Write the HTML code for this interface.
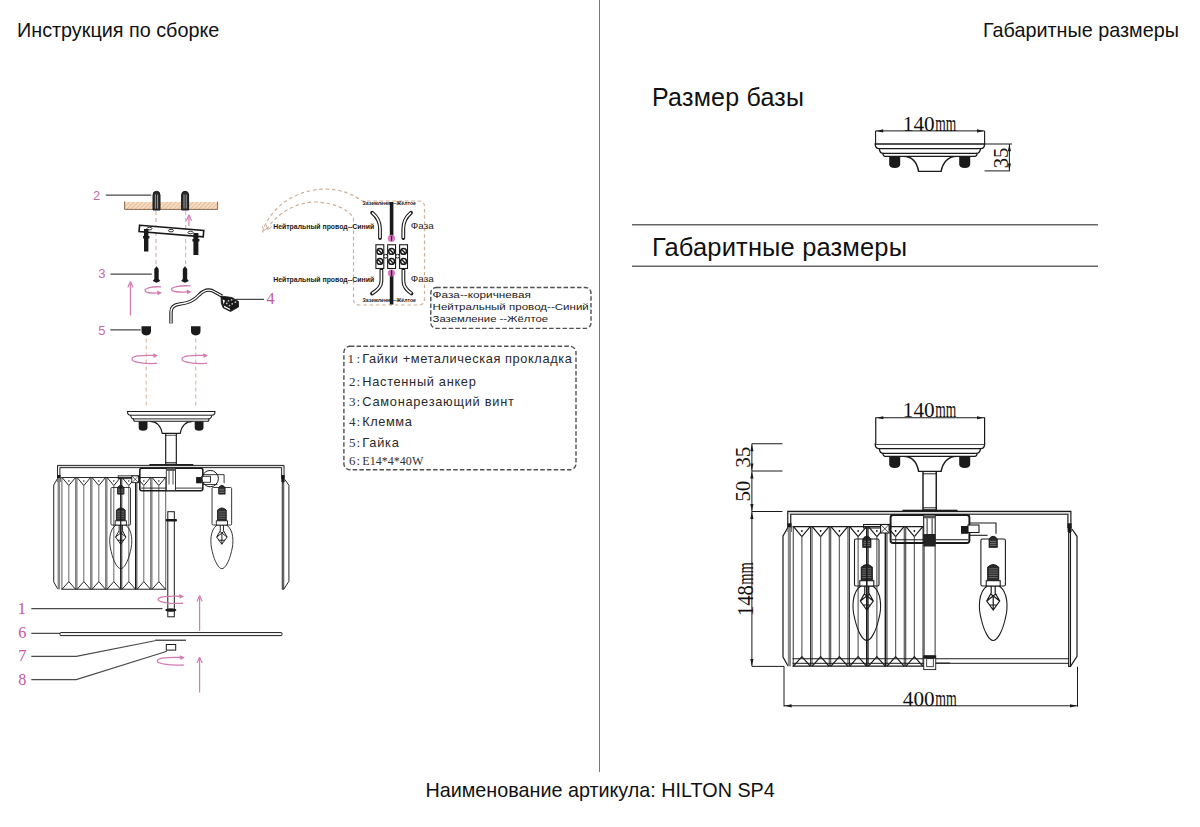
<!DOCTYPE html>
<html><head><meta charset="utf-8"><title>HILTON SP4</title>
<style>
html,body{margin:0;padding:0;background:#fff;}
body{width:1200px;height:827px;overflow:hidden;position:relative;font-family:"Liberation Sans",sans-serif;}
svg{position:absolute;left:0;top:0;}
.t{font-family:"Liberation Sans",sans-serif;fill:#111;}
.s{font-family:"Liberation Serif",serif;fill:#111;}
</style></head><body>
<svg width="1200" height="827" viewBox="0 0 1200 827">
<defs><g id="lamp"><rect x="-141.85" y="0.1" width="283.2" height="2.9" fill="#ddd" stroke="none"/><path d="M-141.85,17 V0.1 H141.3 V17" fill="none" stroke="#1a1a1a" stroke-width="1.2"/><path d="M-138.85,17 V2.95 H138.3 V17" fill="none" stroke="#1a1a1a" stroke-width="1.2"/><path d="M-142,12 h4 v8 l-2,2 l-2,-2z" fill="#1a1a1a"/><path d="M138,12 h4 v8 l-2,2 l-2,-2z" fill="#1a1a1a"/><path d="M-141.6,16 L-146.6,24.7 V145.7 L-141.6,154.7" fill="none" stroke="#1a1a1a" stroke-width="1.2"/><rect x="-141.8" y="16" width="3.2" height="139" fill="#8a8a8a"/><path d="M139.1,15 V155 H140.9 L147.4,145 V25 L142.3,17.7" fill="none" stroke="#1a1a1a" stroke-width="1.2"/><path d="M140.9,15 V155" stroke="#1a1a1a" stroke-width="1.08" fill="none"/><line x1="-137.1" y1="15.3" x2="-5.849999999999994" y2="15.3" stroke="#1a1a1a" stroke-width="1.2"/><line x1="-137.1" y1="154.9" x2="-5.849999999999994" y2="154.9" stroke="#1a1a1a" stroke-width="1.2"/><line x1="-136.35" y1="15.3" x2="-136.35" y2="154.9" stroke="#2a2a2a" stroke-width="0.95"/><line x1="-119.1" y1="15.3" x2="-119.1" y2="154.9" stroke="#2a2a2a" stroke-width="0.95"/><path d="M-136.1,15.3 L-127.725,25.3 L-119.35,15.3" fill="none" stroke="#1a1a1a" stroke-width="1.2"/><circle cx="-127.725" cy="19.700000000000003" r="0.9" fill="#1a1a1a"/><line x1="-127.725" y1="25.3" x2="-127.725" y2="145.4" stroke="#666" stroke-width="1.25"/><path d="M-136.1,154.9 L-127.725,145.4 L-119.35,154.9" fill="none" stroke="#1a1a1a" stroke-width="1.2"/><line x1="-117.6" y1="15.3" x2="-117.6" y2="154.9" stroke="#2a2a2a" stroke-width="0.95"/><line x1="-100.35" y1="15.3" x2="-100.35" y2="154.9" stroke="#2a2a2a" stroke-width="0.95"/><path d="M-117.35,15.3 L-108.975,25.3 L-100.6,15.3" fill="none" stroke="#1a1a1a" stroke-width="1.2"/><circle cx="-108.975" cy="19.700000000000003" r="0.9" fill="#1a1a1a"/><line x1="-108.975" y1="25.3" x2="-108.975" y2="145.4" stroke="#666" stroke-width="1.25"/><path d="M-117.35,154.9 L-108.975,145.4 L-100.6,154.9" fill="none" stroke="#1a1a1a" stroke-width="1.2"/><line x1="-98.85" y1="15.3" x2="-98.85" y2="154.9" stroke="#2a2a2a" stroke-width="0.95"/><line x1="-81.6" y1="15.3" x2="-81.6" y2="154.9" stroke="#2a2a2a" stroke-width="0.95"/><path d="M-98.6,15.3 L-90.225,25.3 L-81.85,15.3" fill="none" stroke="#1a1a1a" stroke-width="1.2"/><circle cx="-90.225" cy="19.700000000000003" r="0.9" fill="#1a1a1a"/><line x1="-90.225" y1="25.3" x2="-90.225" y2="145.4" stroke="#666" stroke-width="1.25"/><path d="M-98.6,154.9 L-90.225,145.4 L-81.85,154.9" fill="none" stroke="#1a1a1a" stroke-width="1.2"/><line x1="-80.1" y1="15.3" x2="-80.1" y2="154.9" stroke="#2a2a2a" stroke-width="0.95"/><line x1="-62.849999999999994" y1="15.3" x2="-62.849999999999994" y2="154.9" stroke="#2a2a2a" stroke-width="0.95"/><path d="M-79.85,15.3 L-71.475,25.3 L-63.099999999999994,15.3" fill="none" stroke="#1a1a1a" stroke-width="1.2"/><circle cx="-71.475" cy="19.700000000000003" r="0.9" fill="#1a1a1a"/><line x1="-71.475" y1="25.3" x2="-71.475" y2="145.4" stroke="#666" stroke-width="1.25"/><path d="M-79.85,154.9 L-71.475,145.4 L-63.099999999999994,154.9" fill="none" stroke="#1a1a1a" stroke-width="1.2"/><line x1="-61.349999999999994" y1="15.3" x2="-61.349999999999994" y2="154.9" stroke="#2a2a2a" stroke-width="0.95"/><line x1="-44.099999999999994" y1="15.3" x2="-44.099999999999994" y2="154.9" stroke="#2a2a2a" stroke-width="0.95"/><path d="M-61.099999999999994,15.3 L-52.724999999999994,25.3 L-44.349999999999994,15.3" fill="none" stroke="#1a1a1a" stroke-width="1.2"/><circle cx="-52.724999999999994" cy="19.700000000000003" r="0.9" fill="#1a1a1a"/><line x1="-52.724999999999994" y1="25.3" x2="-52.724999999999994" y2="145.4" stroke="#666" stroke-width="1.25"/><path d="M-61.099999999999994,154.9 L-52.724999999999994,145.4 L-44.349999999999994,154.9" fill="none" stroke="#1a1a1a" stroke-width="1.2"/><line x1="-42.599999999999994" y1="15.3" x2="-42.599999999999994" y2="154.9" stroke="#2a2a2a" stroke-width="0.95"/><line x1="-25.349999999999994" y1="15.3" x2="-25.349999999999994" y2="154.9" stroke="#2a2a2a" stroke-width="0.95"/><path d="M-42.349999999999994,15.3 L-33.974999999999994,25.3 L-25.599999999999994,15.3" fill="none" stroke="#1a1a1a" stroke-width="1.2"/><circle cx="-33.974999999999994" cy="19.700000000000003" r="0.9" fill="#1a1a1a"/><line x1="-33.974999999999994" y1="25.3" x2="-33.974999999999994" y2="145.4" stroke="#666" stroke-width="1.25"/><path d="M-42.349999999999994,154.9 L-33.974999999999994,145.4 L-25.599999999999994,154.9" fill="none" stroke="#1a1a1a" stroke-width="1.2"/><line x1="-23.849999999999994" y1="15.3" x2="-23.849999999999994" y2="154.9" stroke="#2a2a2a" stroke-width="0.95"/><line x1="-6.599999999999994" y1="15.3" x2="-6.599999999999994" y2="154.9" stroke="#2a2a2a" stroke-width="0.95"/><path d="M-23.599999999999994,15.3 L-15.224999999999994,25.3 L-6.849999999999994,15.3" fill="none" stroke="#1a1a1a" stroke-width="1.2"/><circle cx="-15.224999999999994" cy="19.700000000000003" r="0.9" fill="#1a1a1a"/><line x1="-15.224999999999994" y1="25.3" x2="-15.224999999999994" y2="145.4" stroke="#666" stroke-width="1.25"/><path d="M-23.599999999999994,154.9 L-15.224999999999994,145.4 L-6.849999999999994,154.9" fill="none" stroke="#1a1a1a" stroke-width="1.2"/><rect x="-75.1" y="27.7" width="24.5" height="47" rx="1.5" fill="none" stroke="#1a1a1a" stroke-width="1.08"/><path d="M-66.8,36 V28 Q-62.8,22 -58.8,28 V36 Z" fill="#2a2a2a" stroke="#1a1a1a" stroke-width="1.08"/><line x1="-66.0" y1="30" x2="-59.599999999999994" y2="30" stroke="#aaa" stroke-width="0.6"/><line x1="-66.0" y1="32" x2="-59.599999999999994" y2="32" stroke="#aaa" stroke-width="0.6"/><line x1="-66.0" y1="34" x2="-59.599999999999994" y2="34" stroke="#aaa" stroke-width="0.6"/><path d="M-68.3,69.4 V56 Q-62.8,50.5 -57.3,56 V69.4 Z" fill="#2a2a2a" stroke="#1a1a1a" stroke-width="1.08"/><line x1="-67.3" y1="57.5" x2="-58.3" y2="57.5" stroke="#999" stroke-width="0.6"/><line x1="-67.3" y1="59.7" x2="-58.3" y2="59.7" stroke="#999" stroke-width="0.6"/><line x1="-67.3" y1="61.9" x2="-58.3" y2="61.9" stroke="#999" stroke-width="0.6"/><line x1="-67.3" y1="64.1" x2="-58.3" y2="64.1" stroke="#999" stroke-width="0.6"/><line x1="-67.3" y1="66.3" x2="-58.3" y2="66.3" stroke="#999" stroke-width="0.6"/><rect x="-69.8" y="69.4" width="14" height="5.3" fill="#fff" stroke="#1a1a1a" stroke-width="1.08"/><path d="M-68.8,74.7 C-77.8,80.7 -77.8,96.7 -74.8,107.7 C-71.8,120.7 -66.8,129.2 -62.8,129.2 C-58.8,129.2 -53.8,120.7 -50.8,107.7 C-47.8,96.7 -47.8,80.7 -56.8,74.7" fill="none" stroke="#1a1a1a" stroke-width="1.08"/><path d="M-64.8,74.7 V81.7 L-69.3,89.7 L-62.8,98.7 L-56.3,89.7 L-60.8,81.7 V74.7 M-69.3,89.7 L-60.3,82.7 M-56.3,89.7 L-65.3,82.7 M-62.8,98.7 V85.7 M-66.8,93.7 L-58.8,93.7" fill="none" stroke="#1a1a1a" stroke-width="1.2"/><rect x="51.3" y="27.7" width="24.5" height="47" rx="1.5" fill="none" stroke="#1a1a1a" stroke-width="1.08"/><path d="M59.6,36 V28 Q63.6,22 67.6,28 V36 Z" fill="#2a2a2a" stroke="#1a1a1a" stroke-width="1.08"/><line x1="60.4" y1="30" x2="66.8" y2="30" stroke="#aaa" stroke-width="0.6"/><line x1="60.4" y1="32" x2="66.8" y2="32" stroke="#aaa" stroke-width="0.6"/><line x1="60.4" y1="34" x2="66.8" y2="34" stroke="#aaa" stroke-width="0.6"/><path d="M58.1,69.4 V56 Q63.6,50.5 69.1,56 V69.4 Z" fill="#2a2a2a" stroke="#1a1a1a" stroke-width="1.08"/><line x1="59.1" y1="57.5" x2="68.1" y2="57.5" stroke="#999" stroke-width="0.6"/><line x1="59.1" y1="59.7" x2="68.1" y2="59.7" stroke="#999" stroke-width="0.6"/><line x1="59.1" y1="61.9" x2="68.1" y2="61.9" stroke="#999" stroke-width="0.6"/><line x1="59.1" y1="64.1" x2="68.1" y2="64.1" stroke="#999" stroke-width="0.6"/><line x1="59.1" y1="66.3" x2="68.1" y2="66.3" stroke="#999" stroke-width="0.6"/><rect x="56.6" y="69.4" width="14" height="5.3" fill="#fff" stroke="#1a1a1a" stroke-width="1.08"/><path d="M57.6,74.7 C48.6,80.7 48.6,96.7 51.6,107.7 C54.6,120.7 59.6,129.2 63.6,129.2 C67.6,129.2 72.6,120.7 75.6,107.7 C78.6,96.7 78.6,80.7 69.6,74.7" fill="none" stroke="#1a1a1a" stroke-width="1.08"/><path d="M61.6,74.7 V81.7 L57.1,89.7 L63.6,98.7 L70.1,89.7 L65.6,81.7 V74.7 M57.1,89.7 L66.1,82.7 M70.1,89.7 L61.1,82.7 M63.6,98.7 V85.7 M59.6,93.7 L67.6,93.7" fill="none" stroke="#1a1a1a" stroke-width="1.2"/><line x1="-62.8" y1="16" x2="-62.8" y2="154.9" stroke="#1a1a1a" stroke-width="1.56"/><line x1="-44.2" y1="16" x2="-44.2" y2="154.9" stroke="#1a1a1a" stroke-width="1.56"/><rect x="-66" y="13.2" width="27" height="3.5" fill="none" stroke="#1a1a1a" stroke-width="1.08"/><rect x="-49" y="13.2" width="8.5" height="8.5" fill="#fff" stroke="#1a1a1a" stroke-width="1.1"/><path d="M-49,13.2 L-40.5,21.7 M-40.5,13.2 L-49,21.7" stroke="#1a1a1a" stroke-width="0.8"/><rect x="-39" y="3.7" width="78.8" height="28" rx="2.5" fill="none" stroke="#1a1a1a" stroke-width="1.92"/><line x1="-38" y1="28.5" x2="38.8" y2="28.5" stroke="#1a1a1a" stroke-width="1.08"/><rect x="-5.9" y="3.7" width="11.5" height="28" fill="#fff" stroke="#1a1a1a" stroke-width="1.08"/><rect x="-5.9" y="4.5" width="11.5" height="2.5" fill="#555"/><line x1="-2.5" y1="7" x2="-2.5" y2="24" stroke="#1a1a1a" stroke-width="0.96"/><line x1="2.5" y1="7" x2="2.5" y2="24" stroke="#1a1a1a" stroke-width="0.96"/><rect x="31.4" y="14.7" width="7" height="7.8" fill="#1a1a1a"/><rect x="38.4" y="13.7" width="11" height="7.5" fill="#fff" stroke="#1a1a1a" stroke-width="1.08"/><path d="M39.8,11.7 H66.4 V22.5" fill="none" stroke="#1a1a1a" stroke-width="1.08"/><path d="M39.8,24 H58" fill="none" stroke="#1a1a1a" stroke-width="1.08"/><rect x="-27.1" y="-1.6" width="55" height="1.8" fill="#1a1a1a"/><rect x="-6.6" y="-40" width="13.25" height="38.6" fill="#fff" stroke="#1a1a1a" stroke-width="1.44"/><line x1="-6.6" y1="-37.5" x2="6.65" y2="-37.5" stroke="#1a1a1a" stroke-width="0.96"/><line x1="-6.6" y1="-3.5" x2="6.65" y2="-3.5" stroke="#1a1a1a" stroke-width="0.96"/><path d="M-26.4,-55 C-17,-55 -12.5,-48 -11,-39.9 H11.5 C13,-48 18,-55 27.2,-55" fill="#fff" stroke="#1a1a1a" stroke-width="1.44"/><path d="M-40.4,-55 H-29.4 V-47 Q-29.4,-43.3 -34.9,-43.3 Q-40.4,-43.3 -40.4,-47Z" fill="#1a1a1a"/><path d="M29.6,-55 H40.6 V-47 Q40.6,-43.3 35.1,-43.3 Q29.6,-43.3 29.6,-47Z" fill="#1a1a1a"/><path d="M-54.4,-67.3 H55 C55,-64 53,-62.6 51,-62.6 C50.5,-60 49,-58 47.5,-58 C47.5,-56.5 46.5,-55 45.4,-55 H-44.6 C-45.6,-55 -46.8,-56.5 -46.85,-58 C-48.5,-58 -50,-60 -50.35,-62.6 C-52.5,-62.6 -54.4,-64 -54.4,-67.3Z" fill="#fff" stroke="#1a1a1a" stroke-width="1.32"/><line x1="-50.35" y1="-62.6" x2="51" y2="-62.6" stroke="#1a1a1a" stroke-width="1.2"/><line x1="-46.85" y1="-58" x2="47.5" y2="-58" stroke="#1a1a1a" stroke-width="1.2"/></g><g id="canopy"><path d="M-26.4,-55 C-17,-55 -12.5,-48 -11,-39.9 H11.5 C13,-48 18,-55 27.2,-55" fill="#fff" stroke="#1a1a1a" stroke-width="1.44"/><path d="M-40.4,-55 H-29.4 V-47 Q-29.4,-43.3 -34.9,-43.3 Q-40.4,-43.3 -40.4,-47Z" fill="#1a1a1a"/><path d="M29.6,-55 H40.6 V-47 Q40.6,-43.3 35.1,-43.3 Q29.6,-43.3 29.6,-47Z" fill="#1a1a1a"/><path d="M-54.4,-67.3 H55 C55,-64 53,-62.6 51,-62.6 C50.5,-60 49,-58 47.5,-58 C47.5,-56.5 46.5,-55 45.4,-55 H-44.6 C-45.6,-55 -46.8,-56.5 -46.85,-58 C-48.5,-58 -50,-60 -50.35,-62.6 C-52.5,-62.6 -54.4,-64 -54.4,-67.3Z" fill="#fff" stroke="#1a1a1a" stroke-width="1.32"/><line x1="-50.35" y1="-62.6" x2="51" y2="-62.6" stroke="#1a1a1a" stroke-width="1.2"/><line x1="-46.85" y1="-58" x2="47.5" y2="-58" stroke="#1a1a1a" stroke-width="1.2"/></g></defs><text class="t" x="17" y="36.8" font-size="19.8">Инструкция по сборке</text><text class="t" x="983" y="37" font-size="19.8">Габаритные размеры</text><text class="t" x="425.5" y="797.3" font-size="19.75">Наименование артикула: HILTON SP4</text><line x1="599.5" y1="0" x2="599.5" y2="772" stroke="#777" stroke-width="1"/><text class="t" x="652" y="106.2" font-size="25" fill="#333" textLength="152">Размер базы</text><line x1="632" y1="224.8" x2="1098" y2="224.8" stroke="#666" stroke-width="1.5"/><text class="t" x="652" y="256.3" font-size="25.5" fill="#333" textLength="255">Габаритные размеры</text><line x1="632" y1="266.3" x2="1098" y2="266.3" stroke="#666" stroke-width="1.5"/><use href="#canopy" transform="translate(929.6,211.3)"/><path d="M875.6,144 V130.9 M984.6,144 V130.9" stroke="#1a1a1a" stroke-width="1.1" fill="none"/><line x1="875.6" y1="130.9" x2="984.6" y2="130.9" stroke="#1a1a1a" stroke-width="1"/><path d="M876.2,130.9 L883.2,129.3 L883.2,132.5Z" fill="#1a1a1a"/><path d="M984,130.9 L977,129.3 L977,132.5Z" fill="#1a1a1a"/><text class="s" x="902.8" y="130.6" font-size="21.5" textLength="31.8" lengthAdjust="spacingAndGlyphs">140</text><text class="s" x="935.1999999999999" y="130.6" font-size="23" textLength="21" lengthAdjust="spacingAndGlyphs">mm</text><path d="M984.6,144 H1012 M984.6,170.9 H1010 M1009.4,144 V170.9" stroke="#1a1a1a" stroke-width="1" fill="none"/><path d="M1009.4,144.3 L1007.8,151.3 L1011.0,151.3Z" fill="#1a1a1a"/><path d="M1009.4,170.6 L1007.8,163.6 L1011.0,163.6Z" fill="#1a1a1a"/><text class="s" transform="translate(1007.5,168.3) rotate(-90)" font-size="21.5" textLength="20.8" lengthAdjust="spacingAndGlyphs">35</text><use href="#lamp" transform="translate(929.6,511.3)"/><path d="M875.75,444 V417.75 H984.6 V444" fill="#fff" stroke="#1a1a1a" stroke-width="1.2"/><path d="M876.4,417.75 L883.4,416.15 L883.4,419.35Z" fill="#1a1a1a"/><path d="M984,417.75 L977,416.15 L977,419.35Z" fill="#1a1a1a"/><text class="s" x="902.8" y="417.3" font-size="21.5" textLength="31.8" lengthAdjust="spacingAndGlyphs">140</text><text class="s" x="935.1999999999999" y="417.3" font-size="23" textLength="21" lengthAdjust="spacingAndGlyphs">mm</text><path d="M792.5,658.75 H1069 M792.5,663.3 H1069" stroke="#1a1a1a" stroke-width="1" fill="none"/><rect x="924.1" y="543" width="11" height="113" fill="#fff" stroke="#1a1a1a" stroke-width="0.9"/><rect x="923.75" y="655.8" width="12" height="13.8" fill="#fff" stroke="#1a1a1a" stroke-width="0.9"/><rect x="926.7" y="658.7" width="6.6" height="8" fill="none" stroke="#1a1a1a" stroke-width="0.8"/><rect x="923.5" y="655.8" width="12.5" height="3" rx="1" fill="#1a1a1a"/><line x1="935.8" y1="663" x2="950" y2="663" stroke="#1a1a1a" stroke-width="0.9"/><rect x="923.4" y="534" width="12.1" height="12.5" fill="#222"/><line x1="751.9" y1="443.75" x2="751.9" y2="666.2" stroke="#1a1a1a" stroke-width="1"/><path d="M751.9,443.75 H782.5 M751.9,471 H782.5 M751.9,511.5 H782.5 M751.9,666.4 H784" stroke="#1a1a1a" stroke-width="1" fill="none"/><path d="M751.9,444.2 L750.3,451.2 L753.5,451.2Z" fill="#1a1a1a"/><path d="M751.9,470.6 L750.3,463.6 L753.5,463.6Z" fill="#1a1a1a"/><path d="M751.9,471.4 L750.3,478.4 L753.5,478.4Z" fill="#1a1a1a"/><path d="M751.9,511.1 L750.3,504.1 L753.5,504.1Z" fill="#1a1a1a"/><path d="M751.9,511.9 L750.3,518.9 L753.5,518.9Z" fill="#1a1a1a"/><path d="M751.9,666 L750.3,659 L753.5,659Z" fill="#1a1a1a"/><text class="s" transform="translate(750.2,467.8) rotate(-90)" font-size="21.5" textLength="21.3" lengthAdjust="spacingAndGlyphs">35</text><text class="s" transform="translate(750.2,501.6) rotate(-90)" font-size="21.5" textLength="20.9" lengthAdjust="spacingAndGlyphs">50</text><g transform="translate(752.6,616) rotate(-90)"><text class="s" x="0" y="0" font-size="24" textLength="30.8" lengthAdjust="spacingAndGlyphs">148</text><text class="s" x="31.3" y="0" font-size="23" textLength="22.5" lengthAdjust="spacingAndGlyphs">mm</text></g><path d="M784,666.4 V706.5 M1077.5,666.8 V706.7 M784,705.8 H1077.5" stroke="#1a1a1a" stroke-width="1" fill="none"/><path d="M784.6,705.8 L791.6,704.1999999999999 L791.6,707.4Z" fill="#1a1a1a"/><path d="M1077,705.8 L1070,704.1999999999999 L1070,707.4Z" fill="#1a1a1a"/><text class="s" x="902.8" y="705.5" font-size="21.5" textLength="31.8" lengthAdjust="spacingAndGlyphs">400</text><text class="s" x="935.1999999999999" y="705.5" font-size="23" textLength="21.5" lengthAdjust="spacingAndGlyphs">mm</text><use href="#lamp" transform="translate(171,465.3) scale(0.8)"/><g font-family="Liberation Sans" fill="#c66aa6" font-size="13"><text x="93" y="200">2</text><text x="98.2" y="278.4">3</text><text x="98.2" y="334.6">5</text></g><g font-family="Liberation Serif" fill="#c4589e" font-size="16.2"><text x="266.6" y="304.4">4</text><text x="17.8" y="613.6">1</text><text x="18.3" y="638.4">6</text><text x="18.3" y="661.4">7</text><text x="18.3" y="684.9">8</text></g><path d="M105.75,195.2 H151.3 M110.4,274.1 H151.8 M110.3,329.9 H140.7 M235.7,299.3 H264 M31.3,608.6 H162.5 M31.3,633.3 H60 M31.3,656.3 H76.25 L155,640.75 M31.3,679.6 H76.25 L167,651.25" stroke="#4a4a4a" stroke-width="1.2" fill="none"/><defs><pattern id="hatch" width="3" height="3" patternUnits="userSpaceOnUse" patternTransform="rotate(45)"><rect width="3" height="3" fill="#f4dcc4"/><line x1="0" y1="0" x2="0" y2="3" stroke="#e0a878" stroke-width="1.2"/></pattern></defs><rect x="124.2" y="202" width="93.8" height="7.4" fill="url(#hatch)"/><path d="M124.6,201.5 V209.4 H217.6 V201.5" fill="none" stroke="#8a6a50" stroke-width="1"/><path d="M153,210 V195 Q153,191.3 156.5,191.3 Q160,191.3 160,195 V210Z" fill="#2a2a2a" stroke="#1a1a1a" stroke-width="1"/><line x1="155.4" y1="194.5" x2="155.4" y2="208.5" stroke="#bbb" stroke-width="0.8"/><line x1="157.6" y1="194.5" x2="157.6" y2="208.5" stroke="#bbb" stroke-width="0.8"/><path d="M181.6,210 V195 Q181.6,191.3 185.1,191.3 Q188.6,191.3 188.6,195 V210Z" fill="#2a2a2a" stroke="#1a1a1a" stroke-width="1"/><line x1="184.0" y1="194.5" x2="184.0" y2="208.5" stroke="#bbb" stroke-width="0.8"/><line x1="186.2" y1="194.5" x2="186.2" y2="208.5" stroke="#bbb" stroke-width="0.8"/><line x1="156" y1="211" x2="156" y2="265" stroke="#c9a8a0" stroke-width="1" stroke-dasharray="4,3"/><line x1="185.7" y1="211" x2="185.7" y2="265" stroke="#e0a0c8" stroke-width="1" stroke-dasharray="4,3"/><line x1="189" y1="216.7" x2="189" y2="226" stroke="#d37cb4" stroke-width="1.2"/><path d="M189,214.7 L186.4,220.7 M189,214.7 L191.6,220.7" stroke="#d37cb4" stroke-width="1.2" fill="none"/><path d="M139.6,225.2 L203.8,230.4 L203.2,236.8 L139,231.6Z" fill="#fff" stroke="#1a1a1a" stroke-width="1.6"/><ellipse cx="149.5" cy="228.6" rx="2.6" ry="1.3" fill="none" stroke="#1a1a1a" stroke-width="0.9"/><ellipse cx="171" cy="230.6" rx="2.6" ry="1.3" fill="none" stroke="#1a1a1a" stroke-width="0.9"/><ellipse cx="190.5" cy="232.5" rx="2.6" ry="1.3" fill="none" stroke="#1a1a1a" stroke-width="0.9"/><path d="M144,229 h4.4 v7 h1 v2.5 h-1 v13 h-4.4 v-13 h-1 v-2.5 h1z" fill="#1a1a1a"/><path d="M193.4,233 h5 v6 h1 v2.5 h-1 v13.5 h-5 v-13.5 h-1 v-2.5 h1z" fill="#1a1a1a"/><path d="M156.5,266.2 L158.7,269 V279 L160.3,281 L156.5,282.8 L152.7,281 L154.3,279 V269Z" fill="#1a1a1a"/><path d="M185,266.2 L187.2,269 V279 L188.8,281 L185,282.8 L181.2,281 L182.8,279 V269Z" fill="#1a1a1a"/><path d="M161.0,286.95 C151.8,286.15 145.0,288.25 145.0,290.2 C145.0,292.8 150.95,293.45 159.0,292.95" fill="none" stroke="#d37cb4" stroke-width="1.3"/><path d="M162.0,292.84999999999997 L157.0,290.45 L157.8,295.25Z" fill="#d37cb4"/><path d="M190.5,285.95 C179.5,285.15 171.5,287.25 171.5,289.2 C171.5,291.8 178.5,292.45 188.5,291.95" fill="none" stroke="#d37cb4" stroke-width="1.3"/><path d="M191.5,291.84999999999997 L186.5,289.45 L187.3,294.25Z" fill="#d37cb4"/><line x1="130.4" y1="283.6" x2="130.4" y2="315.6" stroke="#d37cb4" stroke-width="1.2"/><path d="M130.4,281.6 L127.80000000000001,287.6 M130.4,281.6 L133.0,287.6" stroke="#d37cb4" stroke-width="1.2" fill="none"/><path d="M171,323.5 V312 Q171,305 180,304 Q192,303 199,295 Q205,288.5 212,290.5 L222,296" fill="none" stroke="#1a1a1a" stroke-width="3.4"/><path d="M171,323.5 V312 Q171,305 180,304 Q192,303 199,295 Q205,288.5 212,290.5 L222,296" fill="none" stroke="#fff" stroke-width="1.3"/><path d="M221,296 L232,297.5 L238.5,301.5 L238.5,307 L230.5,311.5 L223,307.7 L221.3,303Z" fill="#1a1a1a" stroke="#1a1a1a" stroke-width="0.8" stroke-linejoin="round"/><path d="M222.6,299.5 L225,300.5 L223.6,304.5Z M223.8,305.6 L230,308.8 L230.4,310.3 L224.2,307.3Z" fill="#fff"/><g fill="#bbb"><circle cx="228.5" cy="300.8" r="0.9"/><circle cx="231.6" cy="299.8" r="0.9"/><circle cx="226.8" cy="303.4" r="0.9"/><circle cx="232.2" cy="303.8" r="0.9"/><circle cx="235.4" cy="302.2" r="0.9"/><circle cx="229.5" cy="305.6" r="0.9"/></g><path d="M141.5,326.2 H151.0 V331 Q151.0,335.4 146.25,335.4 Q141.5,335.4 141.5,331Z" fill="#1a1a1a"/><path d="M191,326.2 H200.5 V331 Q200.5,335.4 195.75,335.4 Q191,335.4 191,331Z" fill="#1a1a1a"/><line x1="146.2" y1="338.6" x2="146.2" y2="407" stroke="#d8b098" stroke-width="1" stroke-dasharray="4,3"/><line x1="195.8" y1="338.6" x2="195.8" y2="407" stroke="#d8b098" stroke-width="1" stroke-dasharray="4,3"/><path d="M155.0,355.45 C141.1,354.95 132.0,355.8 132.0,359.2 C132.0,361.75 142.4,364.25 157.0,363.45" fill="none" stroke="#d37cb4" stroke-width="1.3"/><path d="M158.0,355.55 L153.0,353.15 L153.8,357.95Z" fill="#d37cb4"/><path d="M205.0,355.45 C191.1,354.95 182.0,355.8 182.0,359.2 C182.0,361.75 192.4,364.25 207.0,363.45" fill="none" stroke="#d37cb4" stroke-width="1.3"/><path d="M208.0,355.55 L203.0,353.15 L203.8,357.95Z" fill="#d37cb4"/><rect x="167.8" y="511.7" width="6.5" height="105.1" fill="#fff" stroke="#1a1a1a" stroke-width="1"/><rect x="165.7" y="519" width="11.3" height="2.6" rx="1" fill="#1a1a1a"/><ellipse cx="170.8" cy="610" rx="5.6" ry="1.8" fill="#1a1a1a"/><path d="M181.0,596.25 C167.1,595.75 158.0,596.5 158.0,599.5 C158.0,601.75 168.4,604.05 183.0,603.25" fill="none" stroke="#d37cb4" stroke-width="1.3"/><path d="M184.0,596.35 L179.0,593.95 L179.8,598.75Z" fill="#d37cb4"/><line x1="199.6" y1="597.5" x2="199.6" y2="631" stroke="#d37cb4" stroke-width="1.2"/><path d="M199.6,595.5 L197.0,601.5 M199.6,595.5 L202.2,601.5" stroke="#d37cb4" stroke-width="1.2" fill="none"/><line x1="199.6" y1="659" x2="199.6" y2="692.5" stroke="#d37cb4" stroke-width="1.2"/><path d="M199.6,657 L197.0,663 M199.6,657 L202.2,663" stroke="#d37cb4" stroke-width="1.2" fill="none"/><path d="M181.75,657.5 C166.875,657.0 157.25,657.8 157.25,661 C157.25,663.4 168.25,665.8 183.75,665.0" fill="none" stroke="#d37cb4" stroke-width="1.3"/><path d="M184.75,657.6 L179.75,655.2 L180.55,660.0Z" fill="#d37cb4"/><circle cx="210.2" cy="478.6" r="8.2" fill="none" stroke="#1a1a1a" stroke-width="1"/><rect x="60" y="632.6" width="222" height="3" rx="1" fill="#fff" stroke="#1a1a1a" stroke-width="1"/><line x1="155" y1="640.2" x2="186" y2="640.2" stroke="#1a1a1a" stroke-width="1.1"/><rect x="166.3" y="644.5" width="9.4" height="5.6" fill="#fff" stroke="#1a1a1a" stroke-width="1"/><path d="M262.5,232.5 C268,212 290,190 325,189 C342,189 354,195 362,201 H419 Q424.5,201 424.5,207 V299 Q424.5,305 418.5,305 H359 Q353.5,305 353.5,299 V218 C348,209 335,203 315,202 C295,202 275,215 266.5,230" fill="none" stroke="#cfae98" stroke-width="1.2" stroke-dasharray="3.5,2.8"/><path d="M262,226 l2,4.5 l4,-3 M266,225 l2,4.5 l4,-3" fill="none" stroke="#cfae98" stroke-width="1"/><path d="M372.1,212.7 Q380,219 380,229 V238" fill="none" stroke="#1a1a1a" stroke-width="3.8" stroke-linecap="round"/><path d="M372.1,212.7 Q380,219 380,229 V238" fill="none" stroke="#fff" stroke-width="1.6" stroke-linecap="butt"/><path d="M411,212.7 Q403.3,219 403.3,229 V238" fill="none" stroke="#1a1a1a" stroke-width="3.8" stroke-linecap="round"/><path d="M411,212.7 Q403.3,219 403.3,229 V238" fill="none" stroke="#fff" stroke-width="1.6" stroke-linecap="butt"/><path d="M381.4,270 V281 Q381.4,288 372,293.5" fill="none" stroke="#1a1a1a" stroke-width="3.8" stroke-linecap="round"/><path d="M381.4,270 V281 Q381.4,288 372,293.5" fill="none" stroke="#fff" stroke-width="1.6" stroke-linecap="butt"/><path d="M403.4,270 V281 Q403.4,288 411.5,293.5" fill="none" stroke="#1a1a1a" stroke-width="3.8" stroke-linecap="round"/><path d="M403.4,270 V281 Q403.4,288 411.5,293.5" fill="none" stroke="#fff" stroke-width="1.6" stroke-linecap="butt"/><rect x="389.8" y="202" width="3.6" height="35.5" fill="#1a1a1a"/><rect x="389.8" y="271" width="3.6" height="33.5" fill="#1a1a1a"/><circle cx="391.4" cy="238.4" r="3.6" fill="#d070b8" opacity="0.9"/><circle cx="391.4" cy="273" r="3.6" fill="#d070b8" opacity="0.9"/><line x1="391.6" y1="236" x2="391.6" y2="241" stroke="#222" stroke-width="1"/><line x1="391.6" y1="270" x2="391.6" y2="276" stroke="#222" stroke-width="1"/><rect x="375.90000000000003" y="244.75" width="7.9" height="23.75" fill="#fff" stroke="#1a1a1a" stroke-width="1.1"/><circle cx="379.85" cy="251.4" r="2.9" fill="#fff" stroke="#1a1a1a" stroke-width="1.5"/><line x1="377.85" y1="249.4" x2="381.85" y2="253.4" stroke="#1a1a1a" stroke-width="1.4"/><circle cx="379.85" cy="261.4" r="2.9" fill="#fff" stroke="#1a1a1a" stroke-width="1.5"/><line x1="377.85" y1="259.4" x2="381.85" y2="263.4" stroke="#1a1a1a" stroke-width="1.4"/><rect x="387.65000000000003" y="244.75" width="7.9" height="23.75" fill="#fff" stroke="#1a1a1a" stroke-width="1.1"/><circle cx="391.6" cy="251.4" r="2.9" fill="#fff" stroke="#1a1a1a" stroke-width="1.5"/><line x1="389.6" y1="249.4" x2="393.6" y2="253.4" stroke="#1a1a1a" stroke-width="1.4"/><circle cx="391.6" cy="261.4" r="2.9" fill="#fff" stroke="#1a1a1a" stroke-width="1.5"/><line x1="389.6" y1="259.4" x2="393.6" y2="263.4" stroke="#1a1a1a" stroke-width="1.4"/><rect x="399.6" y="244.75" width="7.9" height="23.75" fill="#fff" stroke="#1a1a1a" stroke-width="1.1"/><circle cx="403.55" cy="251.4" r="2.9" fill="#fff" stroke="#1a1a1a" stroke-width="1.5"/><line x1="401.55" y1="249.4" x2="405.55" y2="253.4" stroke="#1a1a1a" stroke-width="1.4"/><circle cx="403.55" cy="261.4" r="2.9" fill="#fff" stroke="#1a1a1a" stroke-width="1.5"/><line x1="401.55" y1="259.4" x2="405.55" y2="263.4" stroke="#1a1a1a" stroke-width="1.4"/><circle cx="385.7" cy="256.2" r="1.9" fill="#fff" stroke="#1a1a1a" stroke-width="1"/><circle cx="397.6" cy="256.2" r="1.9" fill="#fff" stroke="#1a1a1a" stroke-width="1"/><g font-family="Liberation Sans" font-weight="bold" fill="#1a1a1a"><text x="273.2" y="229" font-size="6.9" textLength="101" lengthAdjust="spacingAndGlyphs">Нейтральный провод--Синий</text><text x="273.2" y="282.3" font-size="6.9" textLength="101" lengthAdjust="spacingAndGlyphs">Нейтральный провод--Синий</text><text x="362.5" y="205.3" font-size="5.2" textLength="53.5" lengthAdjust="spacingAndGlyphs">Заземление--Жёлтое</text><text x="362.5" y="302.3" font-size="5.2" textLength="53.5" lengthAdjust="spacingAndGlyphs">Заземление--Жёлтое</text></g><g font-family="Liberation Sans" fill="#222" font-size="9.8"><text x="410.8" y="229" textLength="22.8">Фаза</text><text x="410.8" y="282.2" textLength="22.8">Фаза</text></g><rect x="430.8" y="287.5" width="160.2" height="40.9" rx="5.5" fill="none" stroke="#505050" stroke-width="1.4" stroke-dasharray="4.5,2.2"/><g font-family="Liberation Sans" fill="#222" font-size="9.9"><text x="432.6" y="297.9" textLength="98.3" lengthAdjust="spacingAndGlyphs">Фаза--коричневая</text><text x="432.6" y="310" textLength="156.2" lengthAdjust="spacingAndGlyphs">Нейтральный провод--Синий</text><text x="432.6" y="321.8" textLength="115.5" lengthAdjust="spacingAndGlyphs">Заземление --Жёлтое</text></g><rect x="343.9" y="346.3" width="232.1" height="123.5" rx="6" fill="none" stroke="#505050" stroke-width="1.4" stroke-dasharray="4.5,2.2"/><text x="347.5" y="363.4" font-family="Liberation Serif" font-size="13" fill="#333">1</text><text x="356.5" y="363.4" font-family="Liberation Serif" font-size="13" fill="#333">:</text><text x="362.3" y="363.4" font-family="Liberation Sans" font-size="12.8" fill="#2a2a2a" textLength="209.5">Гайки +металическая прокладка</text><text x="349" y="385.8" font-family="Liberation Serif" font-size="13" fill="#333">2</text><text x="356.5" y="385.8" font-family="Liberation Serif" font-size="13" fill="#333">:</text><text x="362.3" y="385.8" font-family="Liberation Sans" font-size="12.8" fill="#2a2a2a" textLength="113.5">Настенный анкер</text><text x="349" y="405.6" font-family="Liberation Serif" font-size="13" fill="#333">3</text><text x="356.5" y="405.6" font-family="Liberation Serif" font-size="13" fill="#333">:</text><text x="362.3" y="405.6" font-family="Liberation Sans" font-size="12.8" fill="#2a2a2a" textLength="151.5">Самонарезающий винт</text><text x="349" y="425.7" font-family="Liberation Serif" font-size="13" fill="#333">4</text><text x="356.5" y="425.7" font-family="Liberation Serif" font-size="13" fill="#333">:</text><text x="362.3" y="425.7" font-family="Liberation Sans" font-size="12.8" fill="#2a2a2a" textLength="49.5">Клемма</text><text x="349" y="446.7" font-family="Liberation Serif" font-size="13" fill="#333">5</text><text x="356.5" y="446.7" font-family="Liberation Serif" font-size="13" fill="#333">:</text><text x="362.3" y="446.7" font-family="Liberation Sans" font-size="12.8" fill="#2a2a2a" textLength="36.5">Гайка</text><text x="349" y="464.75" font-family="Liberation Serif" font-size="13" fill="#333">6</text><text x="356.5" y="464.75" font-family="Liberation Serif" font-size="13" fill="#333">:</text><text x="362.3" y="464.75" font-family="Liberation Serif" font-size="13" fill="#333" textLength="61" lengthAdjust="spacingAndGlyphs">E14*4*40W</text>
</svg>
</body></html>
